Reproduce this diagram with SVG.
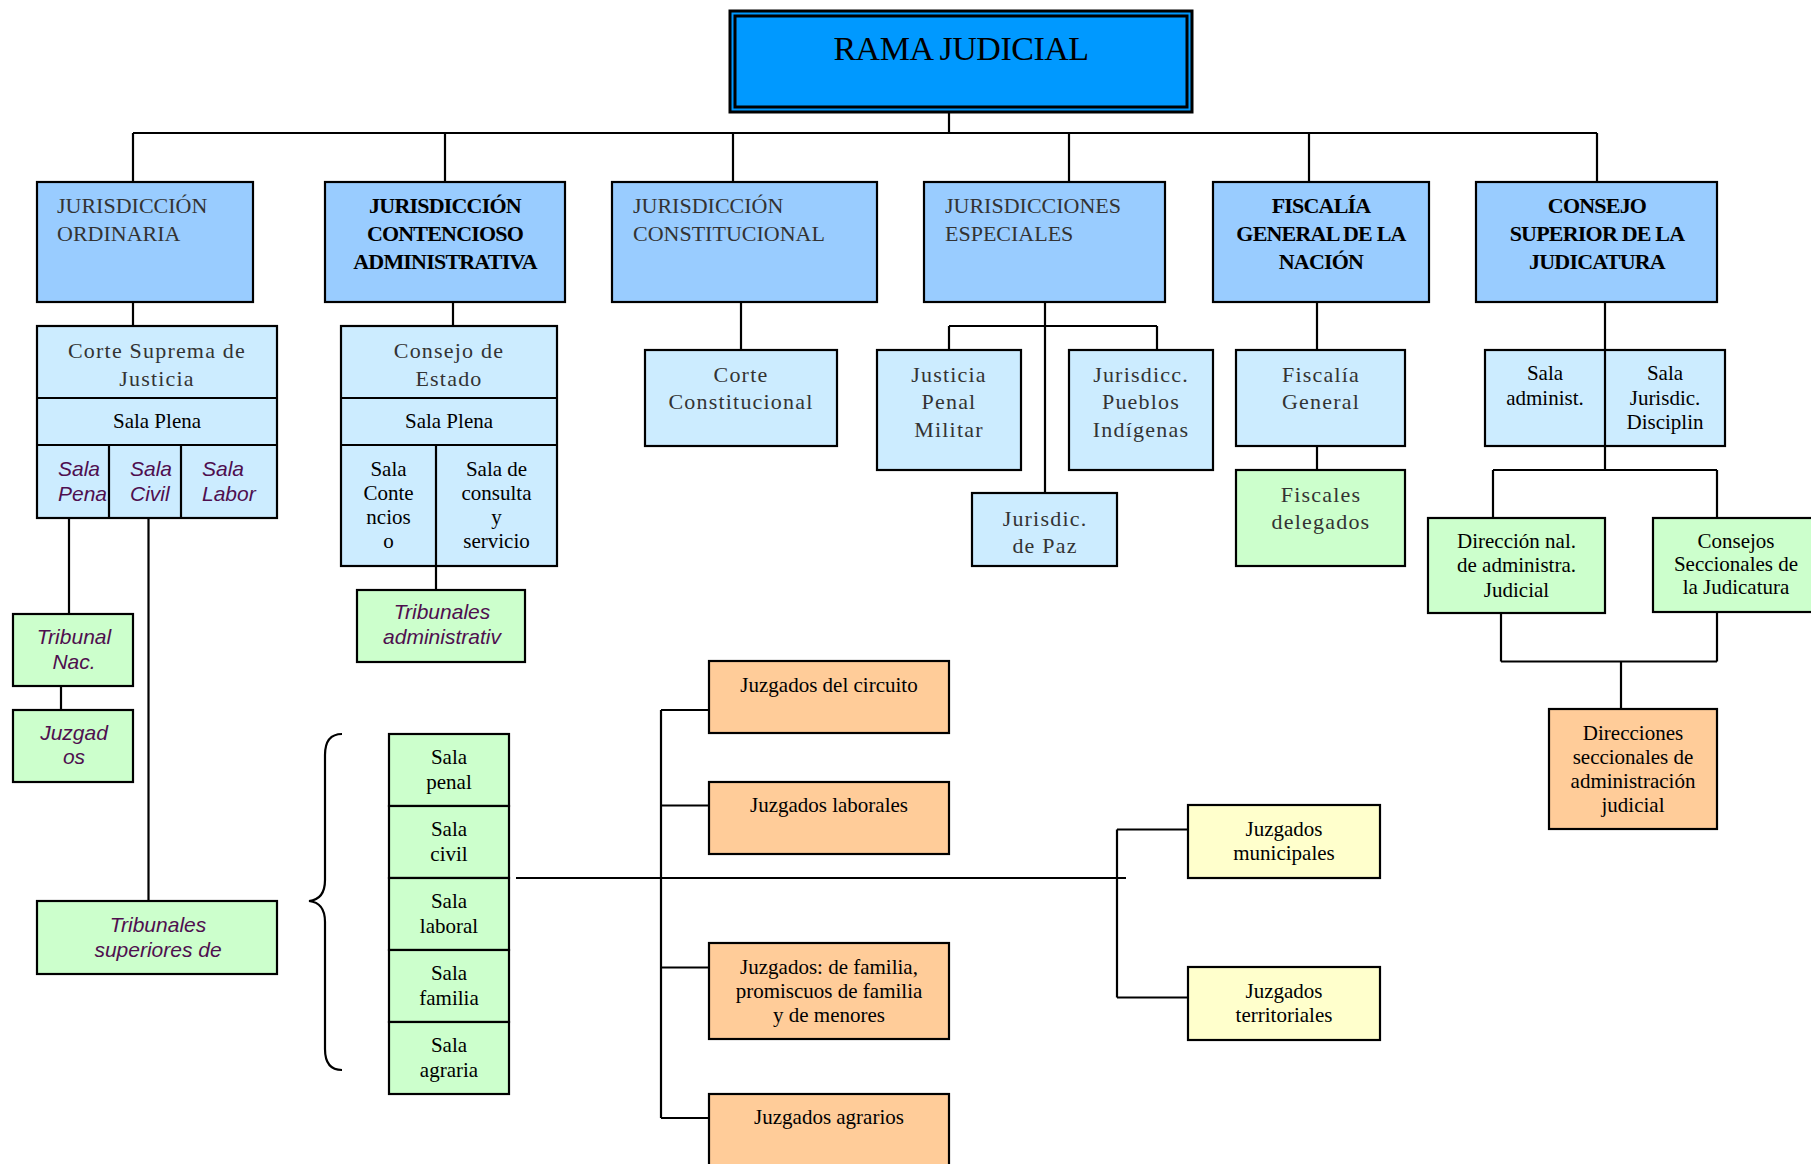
<svg xmlns="http://www.w3.org/2000/svg" width="1811" height="1164" viewBox="0 0 1811 1164">
<style>
.b{stroke:#000;stroke-width:2.2}
.l1{fill:#99CCFF}
.l2{fill:#CCECFF}
.gr{fill:#CCFFCC}
.or{fill:#FFCC99}
.ye{fill:#FFFFCC}
.hg{font-family:"Liberation Serif","Times New Roman",serif;font-size:22px;fill:#333}
.hb{font-family:"Liberation Serif","Times New Roman",serif;font-size:22px;font-weight:bold;fill:#000;letter-spacing:-0.8px;text-anchor:middle}
.wg{font-family:"Liberation Serif","Times New Roman",serif;font-size:22px;fill:#333;letter-spacing:1.2px;text-anchor:middle}
.t{font-family:"Liberation Serif","Times New Roman",serif;font-size:21px;fill:#000;text-anchor:middle}
.it{font-family:"Liberation Sans",Arial,sans-serif;font-size:21px;font-style:italic;fill:#4f0f4f}
.itc{font-family:"Liberation Sans",Arial,sans-serif;font-size:21px;font-style:italic;fill:#4f0f4f;text-anchor:middle}
.c{fill:none;stroke:#000;stroke-width:2.2}
</style>
<rect width="1811" height="1164" fill="#fff"/>
<g id="connectors" class="c">
<path d="M949,112V133M133,133H1597M133,133V182M445,133V182M733,133V182M1069,133V182M1309,133V182M1597,133V182"/>
<path d="M133,302V326M453,302V326"/>
<path d="M69,518V614M61,686V710M148.5,518V901M436,566V590"/>
<path d="M741,302V350"/>
<path d="M1045,302V493M949,326H1157M949,326V350M1157,326V350"/>
<path d="M1317,302V350M1317,446V470"/>
<path d="M1605,302V470M1493,470H1717M1493,470V518M1717,470V518"/>
<path d="M1501,613V661.5M1717,612V661.5M1501,661.5H1717M1621,661.5V709"/>
<path d="M516,878H1126M661,710V1118M661,710H709M661,805.5H709M661,967.5H709M661,1118H709"/>
<path d="M1117,829.5V997.5M1117,829.5H1188M1117,997.5H1188"/>
<path d="M342,734C331,734 325,741 325,755L325,880C325,894 319,900 309,901C319,902 325,908 325,922L325,1049C325,1063 331,1070 342,1070"/>
</g>
<g id="rama-judicial">
<rect x="730" y="11" width="462" height="101" fill="#0099FF" stroke="#000" stroke-width="3"/>
<rect x="735" y="16" width="452" height="91" fill="none" stroke="#000" stroke-width="3"/>
<text x="961" y="60" font-family="Liberation Serif,'Times New Roman',serif" font-size="34" letter-spacing="-0.5" text-anchor="middle" fill="#000">RAMA JUDICIAL</text>
</g>
<g id="jurisdiccion-ordinaria">
<rect class="b l1" x="37" y="182" width="216" height="120"/>
<text class="hg" x="57" y="213">JURISDICCIÓN</text>
<text class="hg" x="57" y="241">ORDINARIA</text>
</g>
<g id="jurisdiccion-contencioso">
<rect class="b l1" x="325" y="182" width="240" height="120"/>
<text class="hb" x="445" y="213">JURISDICCIÓN</text>
<text class="hb" x="445" y="241">CONTENCIOSO</text>
<text class="hb" x="445" y="269">ADMINISTRATIVA</text>
</g>
<g id="jurisdiccion-constitucional">
<rect class="b l1" x="612" y="182" width="265" height="120"/>
<text class="hg" x="633" y="213">JURISDICCIÓN</text>
<text class="hg" x="633" y="241">CONSTITUCIONAL</text>
</g>
<g id="jurisdicciones-especiales">
<rect class="b l1" x="924" y="182" width="241" height="120"/>
<text class="hg" x="945" y="213">JURISDICCIONES</text>
<text class="hg" x="945" y="241">ESPECIALES</text>
</g>
<g id="fiscalia-general-nacion">
<rect class="b l1" x="1213" y="182" width="216" height="120"/>
<text class="hb" x="1321" y="213">FISCALÍA</text>
<text class="hb" x="1321" y="241">GENERAL DE LA</text>
<text class="hb" x="1321" y="269">NACIÓN</text>
</g>
<g id="consejo-superior">
<rect class="b l1" x="1476" y="182" width="241" height="120"/>
<text class="hb" x="1597" y="213">CONSEJO</text>
<text class="hb" x="1597" y="241">SUPERIOR DE LA</text>
<text class="hb" x="1597" y="269">JUDICATURA</text>
</g>
<g id="corte-suprema">
<rect class="b l2" x="37" y="326" width="240" height="192"/>
<path class="c" d="M37,398H277M37,445H277M109,445V518M181,445V518"/>
<text class="wg" x="157" y="358">Corte Suprema de</text>
<text class="wg" x="157" y="386">Justicia</text>
<text class="t" x="157" y="428">Sala Plena</text>
<text class="it" x="58" y="476">Sala</text>
<text class="it" x="58" y="501">Pena</text>
<text class="it" x="130" y="476">Sala</text>
<text class="it" x="130" y="501">Civil</text>
<text class="it" x="202" y="476">Sala</text>
<text class="it" x="202" y="501">Labor</text>
</g>
<g id="consejo-estado">
<rect class="b l2" x="341" y="326" width="216" height="240"/>
<path class="c" d="M341,398H557M341,445H557M436,445V566"/>
<text class="wg" x="449" y="358">Consejo de</text>
<text class="wg" x="449" y="386">Estado</text>
<text class="t" x="449" y="428">Sala Plena</text>
<text class="t" x="388.5" y="476">Sala</text>
<text class="t" x="388.5" y="500">Conte</text>
<text class="t" x="388.5" y="524">ncios</text>
<text class="t" x="388.5" y="548">o</text>
<text class="t" x="496.5" y="476">Sala de</text>
<text class="t" x="496.5" y="500">consulta</text>
<text class="t" x="496.5" y="524">y</text>
<text class="t" x="496.5" y="548">servicio</text>
</g>
<g id="corte-constitucional">
<rect class="b l2" x="645" y="350" width="192" height="96"/>
<text class="wg" x="741" y="382">Corte</text>
<text class="wg" x="741" y="409">Constitucional</text>
</g>
<g id="justicia-penal-militar">
<rect class="b l2" x="877" y="350" width="144" height="120"/>
<text class="wg" x="949" y="382">Justicia</text>
<text class="wg" x="949" y="409">Penal</text>
<text class="wg" x="949" y="437">Militar</text>
</g>
<g id="pueblos-indigenas">
<rect class="b l2" x="1069" y="350" width="144" height="120"/>
<text class="wg" x="1141" y="382">Jurisdicc.</text>
<text class="wg" x="1141" y="409">Pueblos</text>
<text class="wg" x="1141" y="437">Indígenas</text>
</g>
<g id="jurisdic-paz">
<rect class="b l2" x="972" y="493" width="145" height="73"/>
<text class="wg" x="1045" y="526">Jurisdic.</text>
<text class="wg" x="1045" y="553">de Paz</text>
</g>
<g id="fiscalia-general">
<rect class="b l2" x="1236" y="350" width="169" height="96"/>
<text class="wg" x="1321" y="382">Fiscalía</text>
<text class="wg" x="1321" y="409">General</text>
</g>
<g id="fiscales-delegados">
<rect class="b gr" x="1236" y="470" width="169" height="96"/>
<text class="wg" x="1321" y="502">Fiscales</text>
<text class="wg" x="1321" y="529">delegados</text>
</g>
<g id="salas-consejo">
<rect class="b l2" x="1485" y="350" width="240" height="96"/>
<path class="c" d="M1605,350V446"/>
<text class="t" x="1545" y="380">Sala</text>
<text class="t" x="1545" y="405">administ.</text>
<text class="t" x="1665" y="380">Sala</text>
<text class="t" x="1665" y="405">Jurisdic.</text>
<text class="t" x="1665" y="429">Disciplin</text>
</g>
<g id="direccion-nal">
<rect class="b gr" x="1428" y="518" width="177" height="95"/>
<text class="t" x="1516.5" y="548">Dirección nal.</text>
<text class="t" x="1516.5" y="572">de administra.</text>
<text class="t" x="1516.5" y="597">Judicial</text>
</g>
<g id="consejos-seccionales">
<rect class="b gr" x="1653" y="518" width="170" height="94"/>
<text class="t" x="1736" y="548">Consejos</text>
<text class="t" x="1736" y="571">Seccionales de</text>
<text class="t" x="1736" y="594">la Judicatura</text>
</g>
<g id="direcciones-seccionales">
<rect class="b or" x="1549" y="709" width="168" height="120"/>
<text class="t" x="1633" y="740">Direcciones</text>
<text class="t" x="1633" y="764">seccionales de</text>
<text class="t" x="1633" y="788">administración</text>
<text class="t" x="1633" y="812">judicial</text>
</g>
<g id="tribunal-nac">
<rect class="b gr" x="13" y="614" width="120" height="72"/>
<text class="itc" x="74" y="644">Tribunal</text>
<text class="itc" x="74" y="669">Nac.</text>
</g>
<g id="juzgados-nac">
<rect class="b gr" x="13" y="710" width="120" height="72"/>
<text class="itc" x="74" y="740">Juzgad</text>
<text class="itc" x="74" y="764">os</text>
</g>
<g id="tribunales-superiores">
<rect class="b gr" x="37" y="901" width="240" height="73"/>
<text class="itc" x="158" y="932">Tribunales</text>
<text class="itc" x="158" y="957">superiores de</text>
</g>
<g id="tribunales-administrativos">
<rect class="b gr" x="357" y="590" width="168" height="72"/>
<text class="itc" x="442" y="619">Tribunales</text>
<text class="itc" x="442" y="644">administrativ</text>
</g>
<g id="salas-tribunal">
<rect class="b gr" x="389" y="734" width="120" height="72"/>
<rect class="b gr" x="389" y="806" width="120" height="72"/>
<rect class="b gr" x="389" y="878" width="120" height="72"/>
<rect class="b gr" x="389" y="950" width="120" height="72"/>
<rect class="b gr" x="389" y="1022" width="120" height="72"/>
<text class="t" x="449" y="763.5">Sala</text>
<text class="t" x="449" y="788.5">penal</text>
<text class="t" x="449" y="835.5">Sala</text>
<text class="t" x="449" y="860.5">civil</text>
<text class="t" x="449" y="907.5">Sala</text>
<text class="t" x="449" y="932.5">laboral</text>
<text class="t" x="449" y="979.5">Sala</text>
<text class="t" x="449" y="1004.5">familia</text>
<text class="t" x="449" y="1051.5">Sala</text>
<text class="t" x="449" y="1076.5">agraria</text>
</g>
<g id="juzgados-circuito">
<rect class="b or" x="709" y="661" width="240" height="72"/>
<text class="t" x="829" y="692">Juzgados del circuito</text>
</g>
<g id="juzgados-laborales">
<rect class="b or" x="709" y="782" width="240" height="72"/>
<text class="t" x="829" y="812">Juzgados laborales</text>
</g>
<g id="juzgados-familia">
<rect class="b or" x="709" y="943" width="240" height="96"/>
<text class="t" x="829" y="974">Juzgados: de familia,</text>
<text class="t" x="829" y="998">promiscuos de familia</text>
<text class="t" x="829" y="1022">y de menores</text>
</g>
<g id="juzgados-agrarios">
<rect class="b or" x="709" y="1094" width="240" height="90"/>
<text class="t" x="829" y="1123.5">Juzgados agrarios</text>
</g>
<g id="juzgados-municipales">
<rect class="b ye" x="1188" y="805" width="192" height="73"/>
<text class="t" x="1284" y="836">Juzgados</text>
<text class="t" x="1284" y="860">municipales</text>
</g>
<g id="juzgados-territoriales">
<rect class="b ye" x="1188" y="967" width="192" height="73"/>
<text class="t" x="1284" y="998">Juzgados</text>
<text class="t" x="1284" y="1022">territoriales</text>
</g>
</svg>
